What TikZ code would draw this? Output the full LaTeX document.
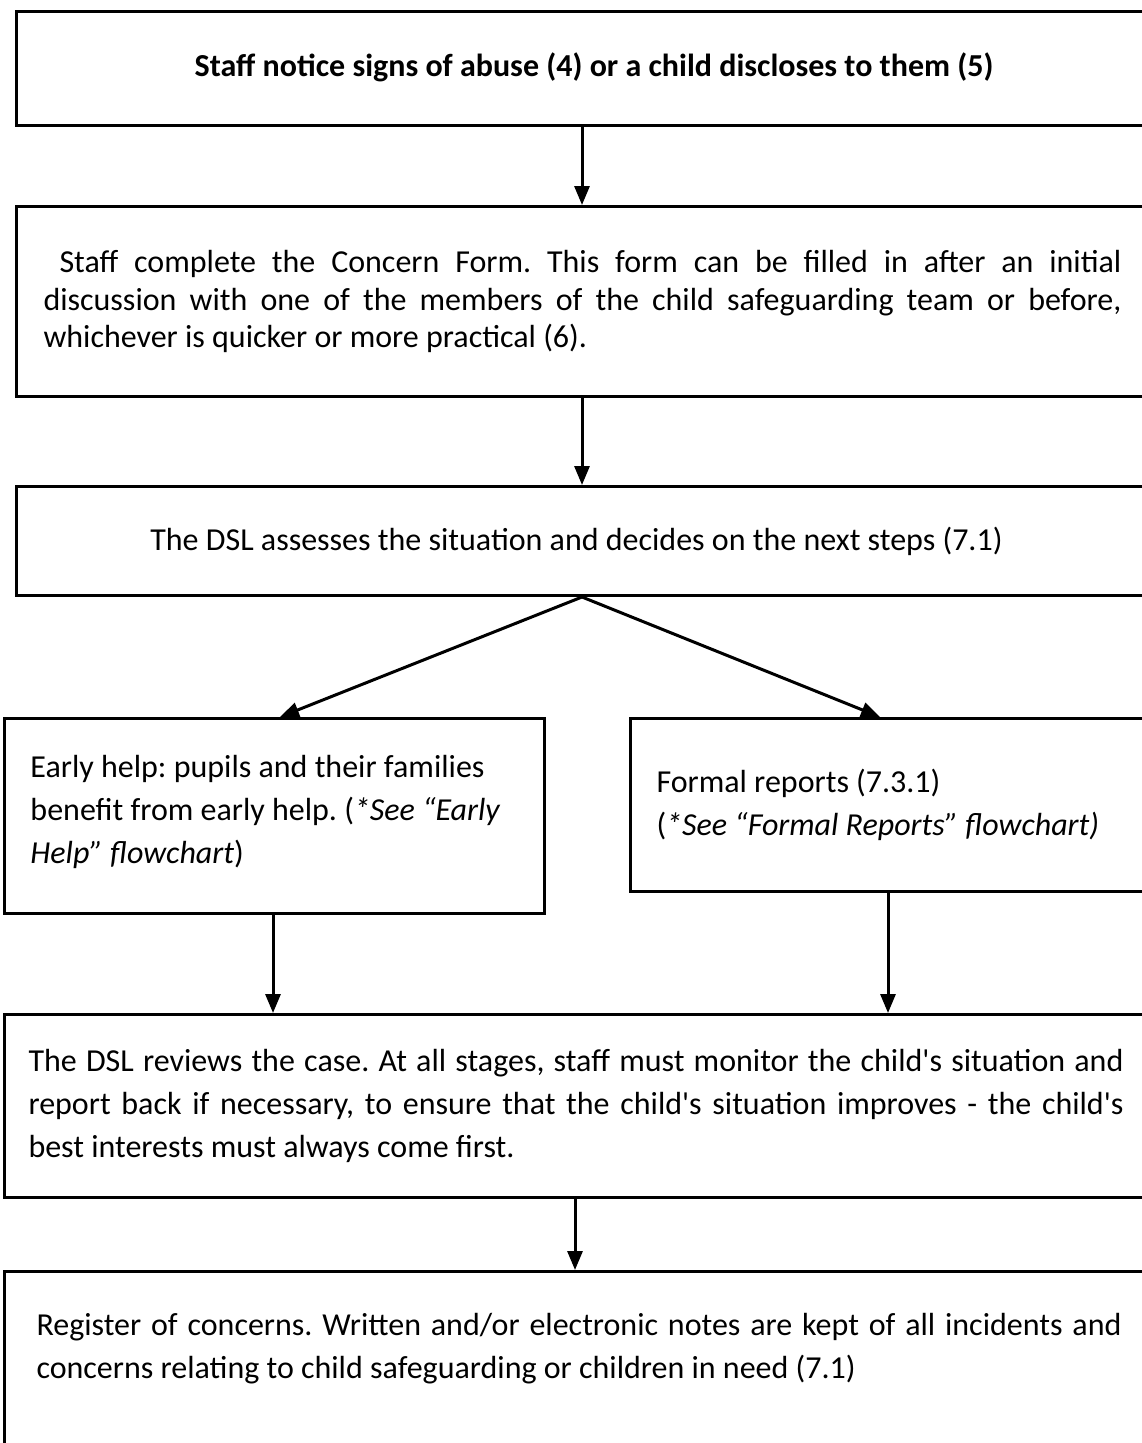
\documentclass[tikz,border=0pt]{standalone}
\usepackage{fontspec}
\setmainfont{Carlito}[Ligatures=TeXOff]
\usetikzlibrary{arrows.meta}
\newcommand\aps{'}
\newcommand\rs{\spaceskip=0pt\xspaceskip=0pt\frenchspacing}
\begin{document}
\begin{tikzpicture}[x=1pt,y=-1pt,
  box/.style={draw,line width=3pt,anchor=north west,inner sep=0pt,font=\fontsize{32}{43}\selectfont},
  arr/.style={line width=3pt,-{Triangle[width=15pt,length=19pt]}}]
\useasboundingbox (0,0) rectangle (1142,1443);
\clip (0,0) rectangle (1142,1443);
\fill[white] (0,0) rectangle (1142,1443);

\node[box,minimum width=1155pt,minimum height=114pt,text width=1000pt,align=flush center] (b1) at (15,10)
  {\rs\bfseries Staff notice signs of abuse (4) or a child discloses to them (5)\rule[-8pt]{0pt}{8pt}};

\node[box,minimum width=1155pt,minimum height=190pt,text width=1101pt,align=flush left,
  font=\fontsize{32}{37.5}\selectfont] (b2) at (15,205)
  {\rs\hspace*{16pt}\makebox[1062pt][s]{Staff complete the Concern Form. This form can be filled in after an initial}\\
   \makebox[1078pt][s]{discussion with one of the members of the child safeguarding team or before,}\\
   whichever is quicker or more practical (6).};

\node[box,minimum width=1155pt,minimum height=109pt,text width=1100pt,align=flush center] (b3) at (15,485)
  {\rs\hspace*{-35pt}The DSL assesses the situation and decides on the next steps (7.1)};

\node[box,minimum width=540pt,minimum height=195pt,text width=488pt,align=flush left] (b4) at (3,717)
  {\rs Early help: pupils and their families\\
   benefit from early help. (\textit{*See “Early}\\
   \textit{Help” flowchart})\rule[-14pt]{0pt}{14pt}};

\node[box,minimum width=541pt,minimum height=173pt,text width=489pt,align=flush left] (b5) at (629,717)
  {\rs Formal reports (7.3.1)\\
   (\textit{*See “Formal Reports” flowchart)}};

\node[box,minimum width=1167pt,minimum height=183pt,text width=1119pt,align=flush left] (b6) at (3,1013)
  {\rs\makebox[1095pt][s]{The DSL reviews the case. At all stages, staff must monitor the child\aps s situation and}\\
   \makebox[1095pt][s]{report back if necessary, to ensure that the child\aps s situation improves - the child\aps s}\\
   best interests must always come first.};

\node[box,inner xsep=32pt,inner ysep=42pt] (b7) at (3,1270)
  {\parbox[c][200pt][t]{1085pt}{\rs\makebox[1085pt][s]{Register of concerns. Written and/or electronic notes are kept of all incidents and}\\
   concerns relating to child safeguarding or children in need (7.1)}};

\draw[arr] ([xshift=567pt]b1.south west) -- ([xshift=567pt]b2.north west);
\draw[arr] ([xshift=567pt]b2.south west) -- ([xshift=567pt]b3.north west);
\draw[arr] ([xshift=567pt]b3.south west) -- ([xshift=277pt]b4.north west);
\draw[arr] ([xshift=567pt]b3.south west) -- ([xshift=251pt]b5.north west);
\draw[arr] ([xshift=270pt]b4.south west) -- ([xshift=270pt]b6.north west);
\draw[arr] ([xshift=259pt]b5.south west) -- ([xshift=885pt]b6.north west);
\draw[arr] ([xshift=572pt]b6.south west) -- ([xshift=572pt]b7.north west);
\end{tikzpicture}
\end{document}
